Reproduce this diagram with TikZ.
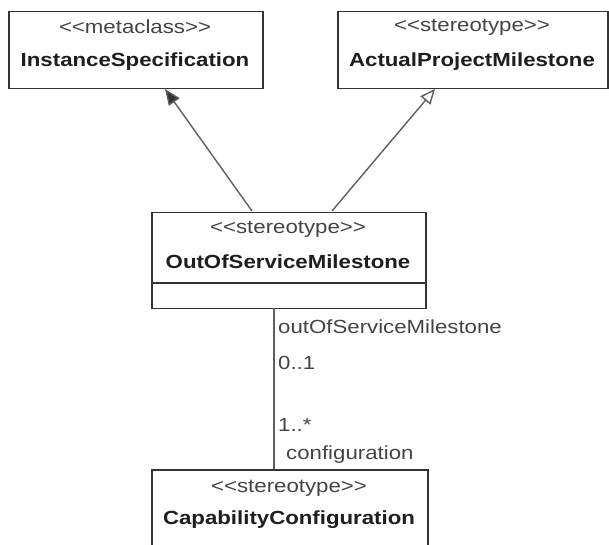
\documentclass[tikz,border=0pt]{standalone}
\usepackage{fontspec}
\setmainfont{Liberation Sans}[Ligatures=TeXOff, FakeStretch=1.17]
\usetikzlibrary{arrows.meta}
\definecolor{boxline}{HTML}{333333}
\definecolor{conline}{HTML}{5E5E5E}
\definecolor{stereo}{HTML}{444444}
\definecolor{nametext}{HTML}{1E1E1E}
\begin{document}
\begin{tikzpicture}[x=1pt,y=-1pt,
  umlbox/.style={draw=boxline, line width=1.6pt, fill=white, inner sep=0pt, anchor=north west},
  stereotxt/.style={font=\fontsize{19}{21}\selectfont, text=stereo, inner sep=0pt},
  nametxt/.style={font=\fontsize{19}{21}\selectfont\bfseries, text=nametext, inner sep=0pt},
  roletxt/.style={font=\fontsize{19}{21}\selectfont, text=stereo, inner sep=0pt, anchor=west},
  conn/.style={draw=conline, line width=1.4pt}]
\useasboundingbox (0,0) rectangle (609,544);
\clip (0,0) rectangle (609,544);
% boxes
\node[umlbox, minimum width=254pt, minimum height=77pt] (A) at (8,10.5) {};
\node[umlbox, minimum width=270pt, minimum height=77pt] (B) at (337,10.5) {};
\node[umlbox, minimum width=274pt, minimum height=96pt] (C) at (151,211.5) {};
\node[umlbox, minimum width=276pt, minimum height=100pt] (D) at (151,469) {};
\coordinate (Cdl) at (151,283);
\coordinate (Cdr) at (425,283);
\draw[draw=boxline, line width=1.6pt] (Cdl) -- (Cdr);
% texts
\node[stereotxt] (As) at (135,27) {<<metaclass>>};
\node[nametxt] (An) at (135,62) {InstanceSpecification};
\node[stereotxt] (Bs) at (472,27) {<<stereotype>>};
\node[nametxt] (Bn) at (472,62) {ActualProjectMilestone};
\node[stereotxt] (Cs) at (288,229) {<<stereotype>>};
\node[nametxt] (Cn) at (288,262) {OutOfServiceMilestone};
\node[stereotxt] (Ds) at (289,488) {<<stereotype>>};
\node[nametxt] (Dn) at (289,520) {CapabilityConfiguration};
% connectors
\coordinate (c1s) at (252,211);
\coordinate (c1e) at (165,89);
\coordinate (c2s) at (332,211);
\coordinate (c2e) at (435,89);
\draw[conn, -{Triangle[length=16pt,width=13pt,fill=boxline]}] (c1s) -- (c1e);
\draw[conn, -{Triangle[open,length=15pt,width=13pt,fill=white]}] (c2s) -- (c2e);
\coordinate (a1) at (274,308);
\coordinate (a2) at (274,469);
\draw[conn] (a1) -- (a2);
% role labels
\node[roletxt] (r1) at (278,327) {outOfServiceMilestone};
\node[roletxt] (r2) at (278,363) {0..1};
\node[roletxt] (r3) at (278,425) {1..*};
\node[roletxt] (r4) at (286,455) {configuration};
\end{tikzpicture}
\end{document}
